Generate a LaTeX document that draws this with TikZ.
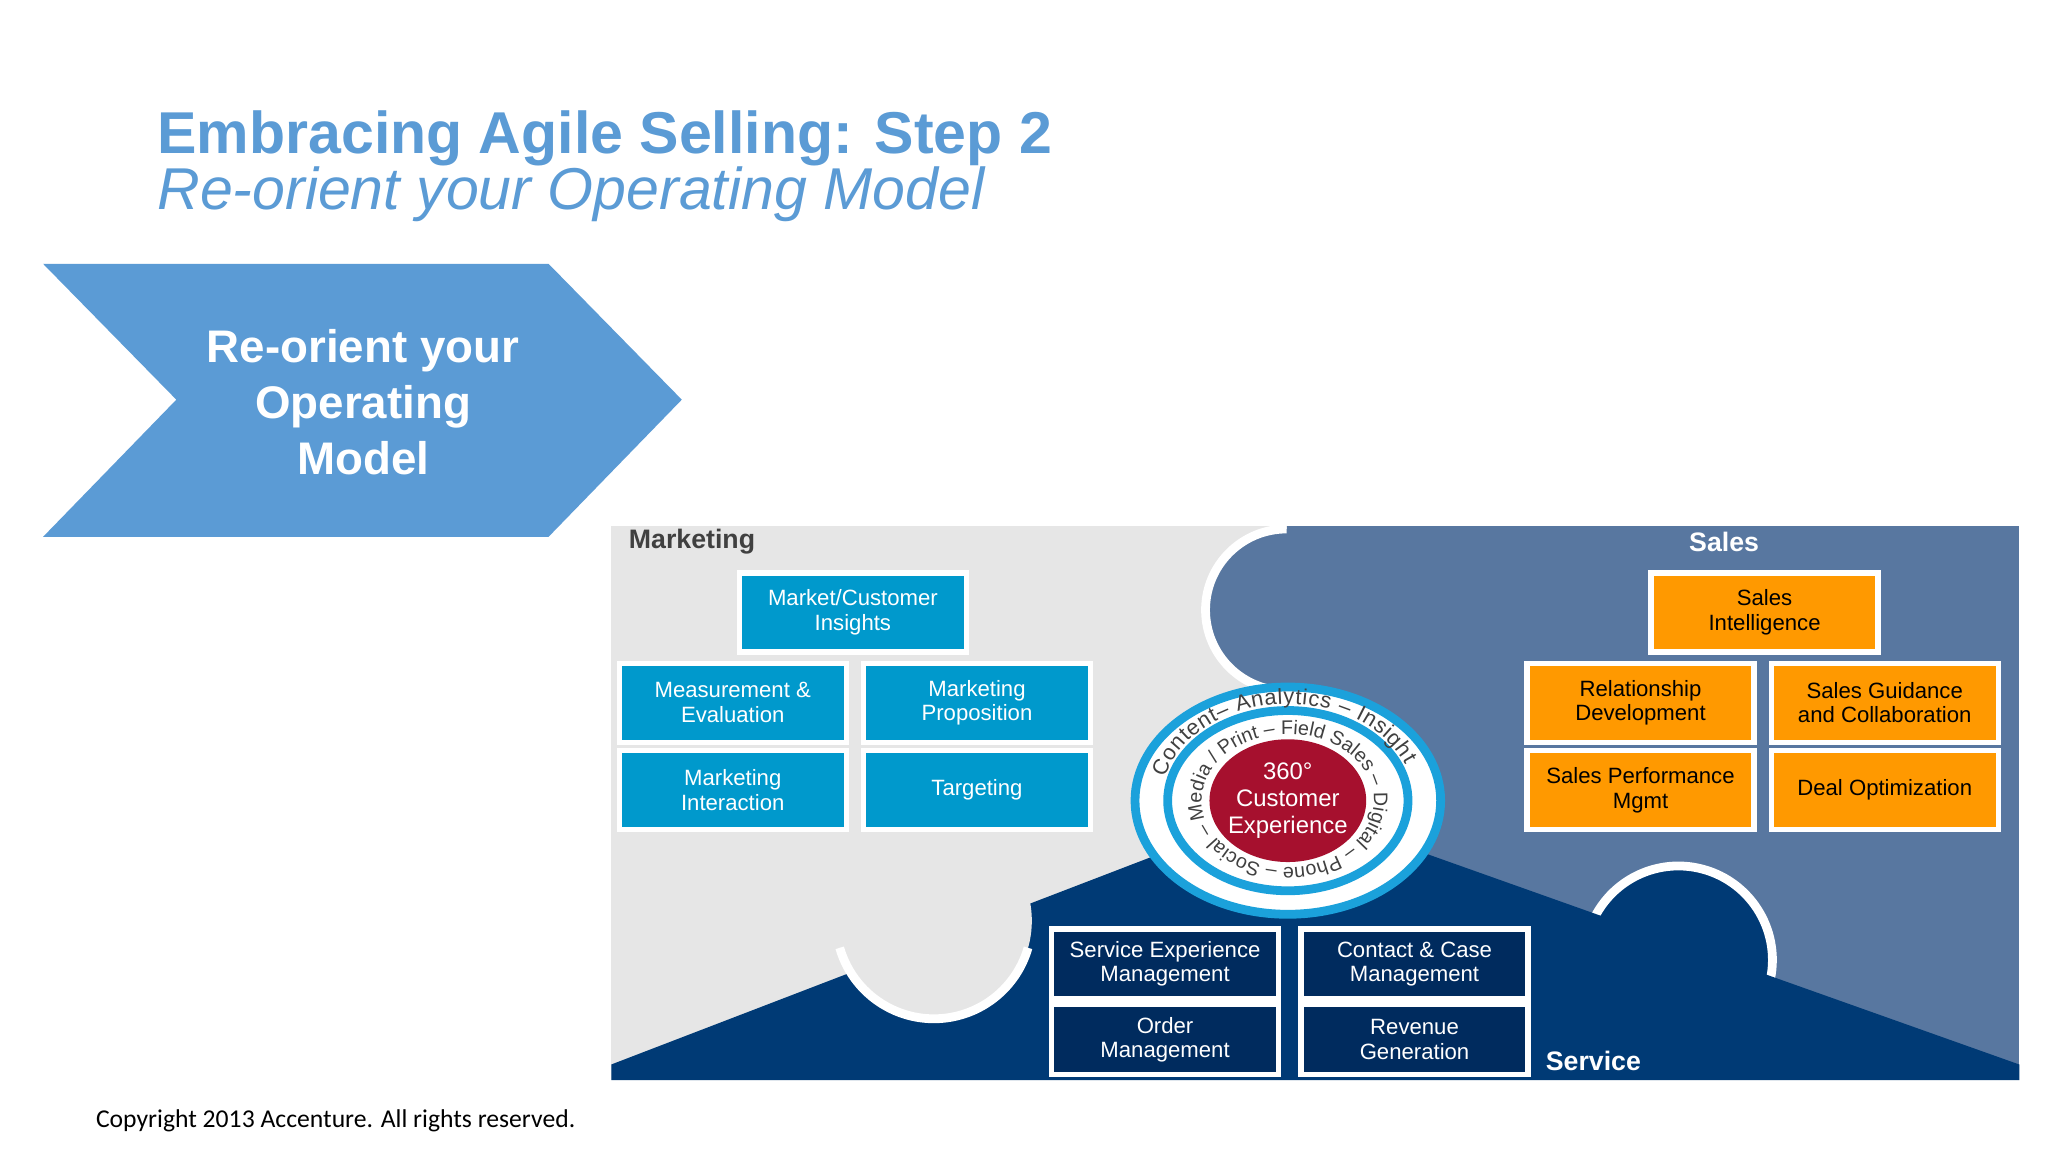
\documentclass[tikz,border=0pt]{standalone}
\usepackage{fontspec}
\setmainfont{Liberation Sans}
\newfontfamily\copyfont{Carlito}
\usetikzlibrary{decorations.text}
\definecolor{titleblue}{HTML}{5B9BD5}
\definecolor{mktblue}{HTML}{0099CC}
\definecolor{salesorange}{HTML}{FF9900}
\definecolor{svcnavy}{HTML}{002B5E}
\definecolor{bgslate}{HTML}{5877A0}
\definecolor{bgnavy}{HTML}{003A75}
\definecolor{bggrey}{HTML}{E6E6E6}
\definecolor{ringblue}{HTML}{1BA1DB}
\definecolor{cxred}{HTML}{A6102E}
\begin{document}
\begin{tikzpicture}[x=0.01306cm, y=0.01306cm,
          mbox/.style={draw=white, line width=1.5pt, fill=mktblue, text=white, minimum width=2.27cm, minimum height=0.79cm, align=center, inner sep=1pt, font=\fontsize{6.3}{7}\selectfont},
          sbox/.style={mbox, fill=salesorange, text=black},
          vbox/.style={mbox, fill=svcnavy, minimum height=0.7cm},
          area/.style={inner sep=0pt, font=\bfseries\fontsize{7.6}{9}\selectfont}
        ]
          \useasboundingbox[fill=white] (0,0) rectangle (1568,-882);
          % title
          \node[anchor=west, inner sep=0pt, text=titleblue, font=\bfseries\fontsize{16.8}{19}\selectfont] (title) at (120,-106) {Embracing Agile Selling: Step 2};
          \node[anchor=west, inner sep=0pt, text=titleblue, font=\itshape\fontsize{16.8}{19}\selectfont] (subtitle) at (120,-149) {Re-orient your Operating Model};
          % chevron
          \fill[titleblue] (33,-202) -- (420,-202) -- (522,-306) -- (420,-411) -- (33,-411) -- (135,-306) -- cycle;
          \node[text=white, align=center, font=\bfseries\fontsize{13}{16}\selectfont] (step) at (278,-308) {Re-orient your\\Operating\\Model};
          % background
          \fill[bggrey] (468,-403) rectangle (1546,-827);
          \fill[bgslate] (985,-403) rectangle (1546,-827);
          \fill[bgslate] (985,-467) circle[radius=62];
          \draw[white, line width=2.5pt] (985,-405) arc[start angle=90, end angle=270, radius=62];
          \fill[bgnavy] (1285,-735) circle[radius=72];
          \draw[white, line width=2.5pt] (1285,-735) ++(-12:72) arc[start angle=-12, end angle=192, radius=72];
          \fill[bgnavy] (468,-827) -- (468,-815) -- (986,-616) -- (1546,-815) -- (1546,-827) -- cycle;
          \fill[bggrey] (715,-705) circle[radius=75];
          \draw[white, line width=2.5pt] (715,-705) ++(196:75) arc[start angle=196, end angle=344, radius=75];
          \node[area, anchor=west, text=black!75] (mkt) at (481,-415) {Marketing};
          \node[area, text=white] (sales) at (1320,-415) {Sales};
          \node[area, anchor=west, text=white] (svc) at (1183,-812) {Service};
          % marketing
          \node[mbox] (insights) at (653,-469) {Market/Customer\\Insights};
          \node[mbox] (measure) at (561,-538) {Measurement \&\\Evaluation};
          \node[mbox] (prop) at (748,-538) {Marketing\\Proposition};
          \node[mbox] (interact) at (561,-605) {Marketing\\Interaction};
          \node[mbox] (target) at (748,-605) {Targeting};
          % sales
          \node[sbox] (intel) at (1351,-469) {Sales\\Intelligence};
          \node[sbox] (relation) at (1256,-538) {Relationship\\Development};
          \node[sbox] (guide) at (1443,-538) {Sales Guidance\\and Collaboration};
          \node[sbox] (perf) at (1256,-605) {Sales Performance\\Mgmt};
          \node[sbox] (deal) at (1443,-605) {Deal Optimization};
          % service
          \node[vbox] (svcexp) at (892,-738) {Service Experience\\Management};
          \node[vbox] (contact) at (1083,-738) {Contact \& Case\\Management};
          \node[vbox] (order) at (892,-796) {Order\\Management};
          \node[vbox] (revenue) at (1083,-796) {Revenue\\Generation};
          % customer rings
          \coordinate (cx) at (986,-613);
          \draw[ringblue, fill=white, line width=2.5pt] (cx) ellipse[x radius=117, y radius=87];
          \draw[ringblue, line width=2.5pt] (cx) ellipse[x radius=92, y radius=69];
          \fill[cxred] (cx) ellipse[x radius=60, y radius=47];
          \node[text=white, align=center, font=\fontsize{6.8}{7.6}\selectfont] (cxtext) at (cx) {360°\\Customer\\Experience};
          \path[decorate, decoration={text along path, text align=fit to path, text format delimiters={|}{|},
              text={|\fontsize{6.2}{7}\selectfont\color{black!75}|Content– Analytics – Insight}}]
            (cx) ++(166:97 and 74) arc[start angle=166, end angle=22, x radius=97, y radius=74];
          \path[decorate, decoration={text along path, text align=fit to path, text format delimiters={|}{|},
              text={|\fontsize{5.6}{6.5}\selectfont\color{black!75}|Media / Print – Field Sales – Digital – Phone – Social –}}]
            (cx) ++(196:66 and 51) arc[start angle=196, end angle=-160, x radius=66, y radius=51];
          % footer
          \node[anchor=west, inner sep=0pt, font=\copyfont\fontsize{7.3}{9}\selectfont] (copy) at (73,-858) {Copyright 2013 Accenture. All rights reserved.};
        \end{tikzpicture}
\end{document}
